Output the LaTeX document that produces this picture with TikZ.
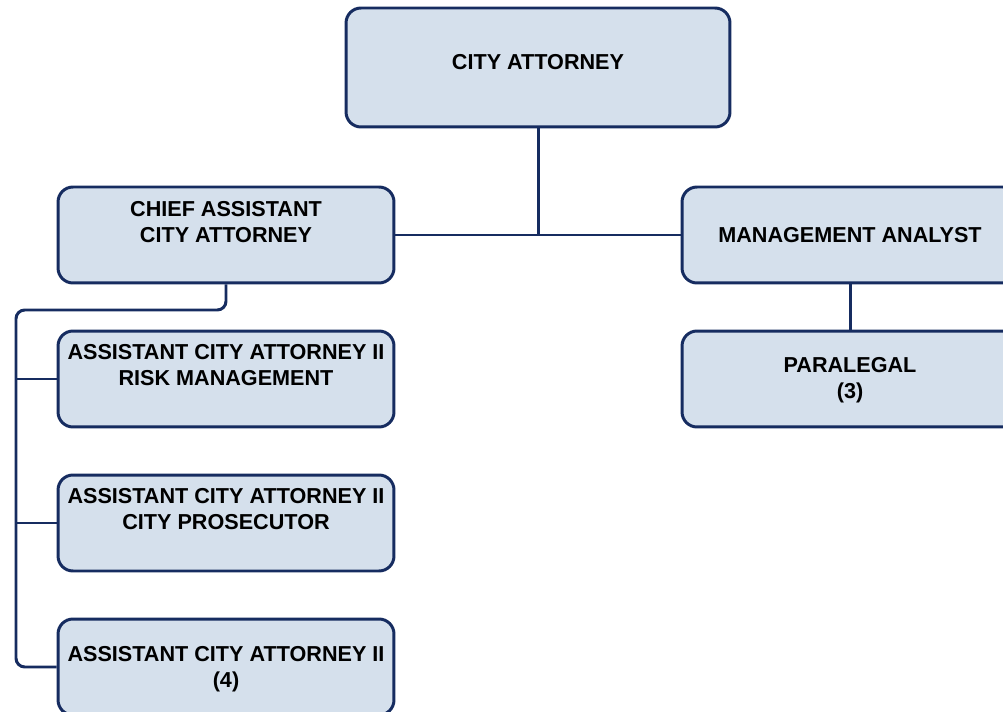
\documentclass[tikz,border=0pt]{standalone}
\usepackage{fontspec}
\setmainfont{Liberation Sans}
\usepackage{tikz}

\definecolor{navy}{RGB}{22,44,96}
\definecolor{boxfill}{RGB}{213,224,236}

\begin{document}
\begin{tikzpicture}[x=0.02cm, y=-0.02cm,
        post/.style={draw=navy, fill=boxfill, line width=1.7pt,
            rounded corners=8.5pt, minimum width=6.72cm, minimum height=1.92cm},
        title/.style={align=center, font=\fontsize{12.3}{14.8}\selectfont\bfseries},
        link/.style={draw=navy, line width=1.7pt}]

        \useasboundingbox (0, 0) rectangle (1003, 712);

        % boxes
        \node[post, minimum width=7.68cm, minimum height=2.38cm] (ca) at (538, 67.5) {};
        \node[post] (chief) at (226, 235) {};
        \node[post] (ma) at (850, 235) {};
        \node[post] (para) at (850, 379) {};
        \node[post] (risk) at (226, 379) {};
        \node[post] (pros) at (226, 523) {};
        \node[post] (acaii) at (226, 667) {};

        % titles
        \node[title] (caT) at ([yshift=0.11cm]ca.center) {CITY ATTORNEY};
        \node[title] (chiefT) at ([yshift=0.26cm]chief.center) {CHIEF ASSISTANT\\CITY ATTORNEY};
        \node[title] (maT) at (ma.center) {MANAGEMENT ANALYST};
        \node[title] (paraT) at ([yshift=-0.03cm]para.center) {PARALEGAL\\(3)};
        \node[title] (riskT) at ([yshift=0.28cm]risk.center) {ASSISTANT CITY ATTORNEY II\\RISK MANAGEMENT};
        \node[title] (prosT) at ([yshift=0.28cm]pros.center) {ASSISTANT CITY ATTORNEY II\\CITY PROSECUTOR};
        \node[title] (acaiiT) at ([yshift=-0.04cm]acaii.center) {ASSISTANT CITY ATTORNEY II\\(4)};

        % lines
        \draw[link] (ca.south) -- (ca.south |- chief.east);
        \draw[link] (chief.east) -- (ma.west);
        \draw[link] (ma.south) -- (para.north);

        \coordinate (bus) at (16, 310);
        \draw[link, rounded corners=5pt] (chief.south) -- (chief.south |- bus) -- (bus)
            -- (bus |- acaii.west) -- (acaii.west);
        \draw[link] (bus |- risk.west) -- (risk.west);
        \draw[link] (bus |- pros.west) -- (pros.west);

\end{tikzpicture}
\end{document}
